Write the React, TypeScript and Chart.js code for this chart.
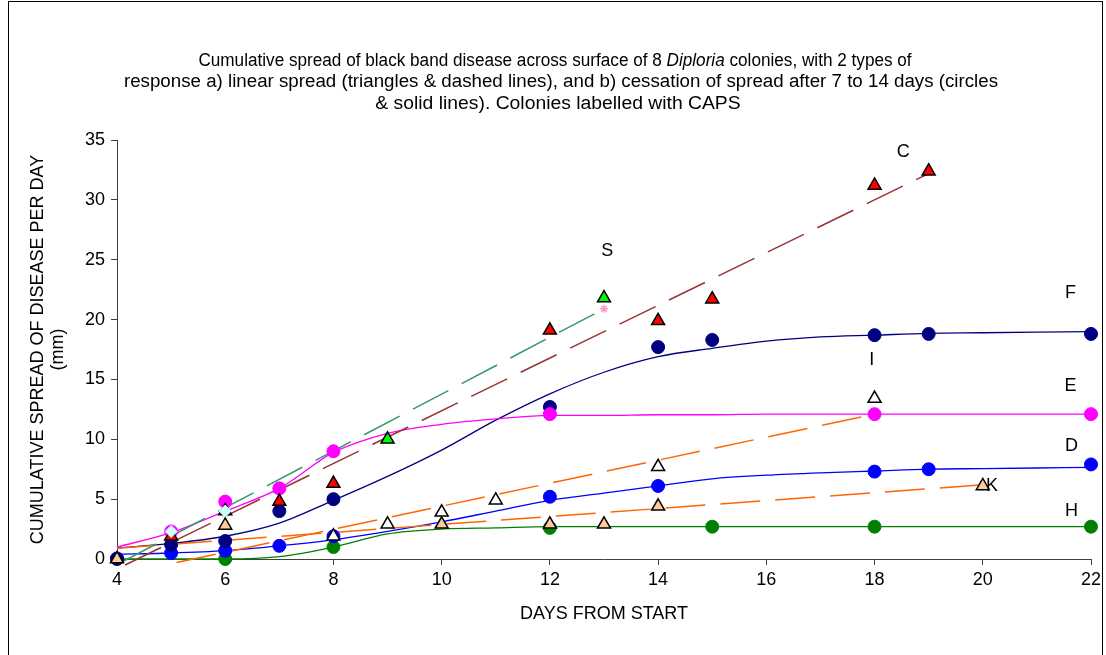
import React, { useEffect, useRef } from "react";
import { Chart, registerables } from "chart.js";

Chart.register(...registerables);

// ---- observed points (days from start, cumulative spread mm) ----
const cDays = [5, 6, 7, 8, 12, 14, 15, 18, 19];
const cSpread = [1.9, 4.0, 4.8, 6.3, 19.1, 19.9, 21.7, 31.2, 32.4];
const sDays = [9, 13];
const sSpread = [10.0, 21.8];
const sEarlyDays = [5, 6];
const sEarlySpread = [2.3, 4.0];
const sEndDays = [13];
const sEndSpread = [20.9];
const iDays = [8, 9, 10, 11, 14, 18];
const iSpread = [1.9, 2.9, 3.9, 4.9, 7.7, 13.4];
const kDays = [4, 6, 10, 12, 13, 14, 20];
const kSpread = [0, 2.8, 2.9, 2.9, 2.9, 4.4, 6.1];
const eDays = [5, 6, 7, 8, 12, 18, 22];
const eSpread = [2.3, 4.8, 5.9, 9.0, 12.1, 12.1, 12.1];
const fDays = [4, 5, 6, 7, 8, 12, 14, 15, 18, 19, 22];
const fSpread = [0, 1.2, 1.5, 4.0, 5.0, 12.7, 17.7, 18.3, 18.7, 18.8, 18.8];
const dDays = [4, 5, 6, 7, 8, 12, 14, 18, 19, 22];
const dSpread = [0.05, 0.5, 0.7, 1.1, 1.9, 5.2, 6.1, 7.3, 7.5, 7.9];
const hDays = [6, 8, 12, 15, 18, 22];
const hSpread = [0, 1.0, 2.6, 2.7, 2.7, 2.7];

// ---- fitted curves for the "cessation" colonies (solid lines) ----
const curveDays = [4, 5, 6, 7, 8, 9, 10, 11, 12, 13, 14, 15, 16, 17, 18, 19, 20, 21, 22];
const eCurve = [1.0, 2.2, 4.0, 5.9, 8.9, 10.5, 11.25, 11.7, 12.0, 12.0, 12.05, 12.05, 12.1, 12.1, 12.1, 12.1, 12.1, 12.1, 12.1];
const fCurve = [0.9, 1.3, 1.9, 3.0, 4.9, 6.9, 9.1, 11.6, 13.8, 15.6, 16.9, 17.6, 18.2, 18.55, 18.7, 18.85, 18.9, 18.95, 19.0];
const dCurve = [0.4, 0.5, 0.7, 1.1, 1.6, 2.3, 3.1, 4.0, 4.9, 5.5, 6.1, 6.7, 7.0, 7.2, 7.35, 7.5, 7.55, 7.6, 7.65];
const hCurve = [0, 0, 0, 0.2, 1.0, 2.1, 2.5, 2.6, 2.7, 2.7, 2.7, 2.7, 2.7, 2.7, 2.7, 2.7, 2.7, 2.7, 2.7];

// ---- linear trend lines for the "linear spread" colonies (dashed) ----
const cTrendDays = [4.15, 19];
const cTrend = [-0.5, 32.2];
const sTrendDays = [4.07, 13];
const sTrend = [-0.3, 20.9];
const iTrendDays = [5.1, 18];
const iTrend = [-0.3, 12.1];
const kTrendDays = [4, 20];
const kTrend = [0.9, 6.2];

// ---- colony labels ----
const colonyNames = ["C", "S", "F", "I", "E", "D", "K", "H"];
const labelDays = [18.53, 13.06, 21.62, 17.95, 21.62, 21.64, 20.17, 21.64];
const labelSpread = [34.0, 25.75, 22.2, 16.6, 14.45, 9.44, 6.1, 4.0];

// ---- axis ----
const xMin = 4, xMax = 22, xStep = 2;
const yMin = 0, yMax = 35, yStep = 5;

const FONT = '"Liberation Sans", Arial, sans-serif';

const pts = (xs: number[], ys: number[]) => xs.map((x, i) => ({ x, y: ys[i] }));

const labelPlugin = {
  id: "colonyLabels",
  afterDatasetsDraw(chart: any) {
    const { ctx, scales } = chart;
    const xs = scales.x, ys = scales.y;
    ctx.save();
    ctx.font = `18px ${FONT}`;
    ctx.fillStyle = "#000";
    ctx.textAlign = "center";
    ctx.textBaseline = "middle";
    colonyNames.forEach((n, i) => {
      ctx.fillText(n, xs.getPixelForValue(labelDays[i]), ys.getPixelForValue(labelSpread[i]));
    });
    ctx.restore();
  },
};

export default function App() {
  const ref = useRef<HTMLCanvasElement | null>(null);

  useEffect(() => {
    if (!ref.current) return;
    const curve = (data: number[], color: string, order: number) => ({
      data: pts(curveDays, data),
      borderColor: color,
      borderWidth: 1.3,
      pointRadius: 0,
      showLine: true,
      cubicInterpolationMode: "monotone",
      clip: false,
      order,
    });
    const trend = (xs: number[], ys: number[], color: string, order: number) => ({
      data: pts(xs, ys),
      borderColor: color,
      borderWidth: 1.5,
      borderDash: [40, 15],
      pointRadius: 0,
      showLine: true,
      clip: false,
      order,
    });
    const marks = (xs: number[], ys: number[], style: string, fill: string, border: string, r: number, bw: number, order: number) => ({
      data: pts(xs, ys),
      showLine: false,
      pointStyle: style,
      pointRadius: r,
      pointBackgroundColor: fill,
      pointBorderColor: border,
      pointBorderWidth: bw,
      backgroundColor: fill,
      borderColor: border,
      clip: false,
      order,
    });

    const chart = new Chart(ref.current, {
      type: "scatter",
      data: {
        datasets: [
          curve(hCurve, "#008000", 100),
          curve(dCurve, "#0000FF", 99),
          curve(fCurve, "#000080", 98),
          curve(eCurve, "#FF00FF", 97),
          trend(kTrendDays, kTrend, "#FF6600", 96),
          trend(iTrendDays, iTrend, "#FF6600", 95),
          trend(cTrendDays, cTrend, "#993333", 94),
          trend(sTrendDays, sTrend, "#339966", 93),
          marks(hDays, hSpread, "circle", "#008000", "#008000", 6.5, 1, 50),
          marks(dDays, dSpread, "circle", "#0000FF", "#0000FF", 6.5, 1, 49),
          marks(fDays, fSpread, "circle", "#000080", "#000080", 6.5, 1, 48),
          marks(eDays, eSpread, "circle", "#FF00FF", "#FF00FF", 6.5, 1, 47),
          marks(cDays, cSpread, "triangle", "#FF0000", "#000000", 7.5, 1.5, 40),
          marks(kDays, kSpread, "triangle", "#FFCC99", "#000000", 7.5, 1.5, 39),
          marks(iDays, iSpread, "triangle", "#FFFFFF", "#000000", 7.5, 1.5, 38),
          marks(sDays, sSpread, "triangle", "#00FF00", "#000000", 7.5, 1.5, 37),
          marks(sEarlyDays, sEarlySpread, "rectRot", "#CCFFFF", "#CCFFFF", 6, 1, 30),
          marks(sEndDays, sEndSpread, "star", "#FF99CC", "#FF99CC", 4, 1.5, 29),
        ] as any,
      },
      options: {
        animation: false,
        responsive: false,
        maintainAspectRatio: false,
        layout: { padding: { left: 0, top: 140, right: 15, bottom: 0 } },
        plugins: { legend: { display: false }, tooltip: { enabled: false }, title: { display: false } },
        scales: {
          x: {
            type: "linear",
            min: xMin,
            max: xMax,
            afterFit(scale: any) { scale.height = 96; },
            ticks: { stepSize: xStep, color: "#000", font: { family: FONT, size: 18 }, padding: 4, maxRotation: 0 },
            grid: { display: true, drawOnChartArea: false, drawTicks: true, tickLength: 6, color: "#404040" },
            border: { display: true, color: "#404040" },
            title: { display: true, text: "DAYS FROM START", color: "#000", font: { family: FONT, size: 18, lineHeight: 1.2 }, padding: { top: 0, bottom: 30 } },
          },
          y: {
            type: "linear",
            min: yMin,
            max: yMax,
            afterFit(scale: any) { scale.width = 117; },
            ticks: { stepSize: yStep, color: "#000", font: { family: FONT, size: 18 }, padding: 6 },
            grid: { display: true, drawOnChartArea: false, drawTicks: true, tickLength: 6, color: "#404040" },
            border: { display: true, color: "#404040" },
            title: { display: true, text: ["CUMULATIVE SPREAD OF DISEASE PER DAY", "(mm)"], color: "#000", font: { family: FONT, size: 18, lineHeight: 1.111 }, padding: { top: 28, bottom: 0 } },
          },
        },
      } as any,
      plugins: [labelPlugin],
    });
    return () => chart.destroy();
  }, []);

  const titleLine = (top: number, center: number, sx: number, content: React.ReactNode) => (
    <div style={{ position: "absolute", top, left: center - 550, width: 1100, textAlign: "center", whiteSpace: "nowrap", lineHeight: "22px", fontSize: 18, fontFamily: FONT, color: "#000", transform: `scaleX(${sx})`, transformOrigin: "50% 50%" }}>
      {content}
    </div>
  );

  return (
    <div style={{ position: "fixed", left: 0, top: 0, width: 1106, height: 655, background: "#fff", overflow: "hidden" }}>
      <canvas ref={ref} width={1106} height={655} style={{ position: "absolute", left: 0, top: 0, width: 1106, height: 655 }} />
      {titleLine(49, 554.5, 0.953, <>Cumulative spread of black band disease across surface of 8 <i>Diploria</i> colonies, with 2 types of</>)}
      {titleLine(70, 561, 1.04, <>response a) linear spread (triangles &amp; dashed lines), and b) cessation of spread after 7 to 14 days (circles</>)}
      {titleLine(92, 557.5, 1.074, <>&amp; solid lines). Colonies labelled with CAPS</>)}
      <div style={{ position: "absolute", left: 8, top: 1, width: 1095, height: 700, border: "1px solid #000", boxSizing: "border-box", pointerEvents: "none" }} />
    </div>
  );
}
